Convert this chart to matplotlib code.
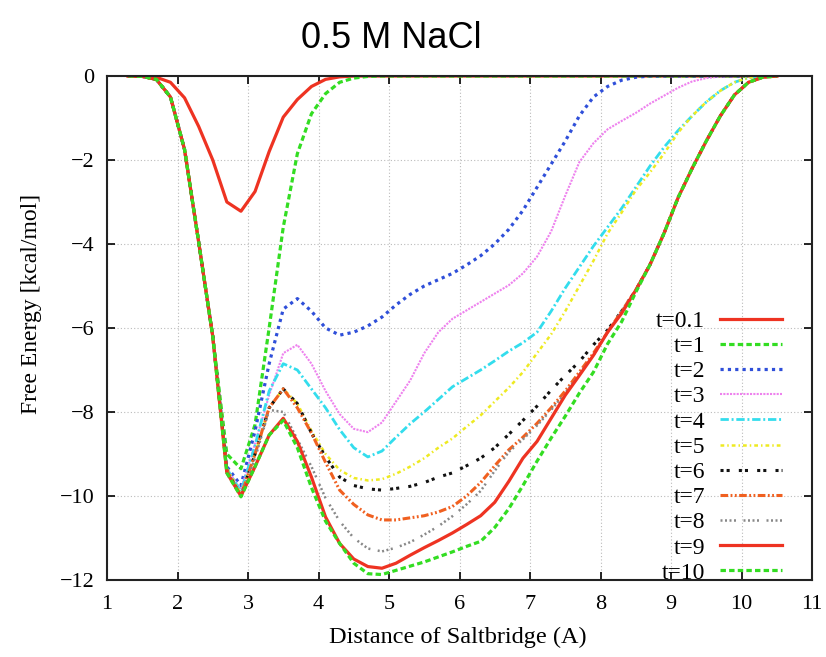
import numpy as np
import matplotlib
matplotlib.use("Agg")
import matplotlib.pyplot as plt

# distance grid (A)
distance = [1.3, 1.5, 1.7, 1.9, 2.1, 2.3, 2.5, 2.7, 2.9, 3.1, 3.3, 3.5, 3.7, 3.9,
            4.1, 4.3, 4.5, 4.7, 4.9, 5.1, 5.3, 5.5, 5.7, 5.9, 6.1, 6.3, 6.5, 6.7,
            6.9, 7.1, 7.3, 7.5, 7.7, 7.9, 8.1, 8.3, 8.5, 8.7, 8.9, 9.1, 9.3, 9.5,
            9.7, 9.9, 10.1, 10.3, 10.5]

# free energy (kcal/mol) per time
t01 = [0, 0, -0.03, -0.15, -0.52, -1.2, -2.0, -3.0, -3.22, -2.75, -1.8, -0.98, -0.56, -0.25,
       -0.08, -0.02, 0, 0, 0, 0, 0, 0, 0, 0, 0, 0, 0, 0,
       0, 0, 0, 0, 0, 0, 0, 0, 0, 0, 0, 0, 0, 0,
       0, 0, 0, 0, 0]
t1 = [0, -0.01, -0.08, -0.5, -1.75, -3.95, -6.2, -9.0, -9.35, -8.3, -6.0, -3.6, -1.85, -0.9,
      -0.42, -0.15, -0.05, -0.01, 0, 0, 0, 0, 0, 0, 0, 0, 0, 0,
      0, 0, 0, 0, 0, 0, 0, 0, 0, 0, 0, 0, 0, 0,
      0, 0, 0, 0, 0]
t2 = [0, -0.01, -0.08, -0.5, -1.75, -3.95, -6.2, -9.3, -9.75, -8.45, -6.85, -5.55, -5.3, -5.6,
      -6.0, -6.17, -6.1, -5.95, -5.74, -5.45, -5.2, -5.0, -4.85, -4.7, -4.5, -4.28, -4.0, -3.65,
      -3.2, -2.65, -2.1, -1.55, -0.95, -0.5, -0.25, -0.1, -0.03, 0, 0, 0, 0, 0,
      0, 0, 0, 0, 0]
t3 = [0, -0.01, -0.08, -0.5, -1.75, -3.95, -6.2, -9.35, -9.85, -8.75, -7.6, -6.6, -6.4, -6.85,
      -7.5, -8.05, -8.4, -8.48, -8.25, -7.75, -7.25, -6.6, -6.1, -5.78, -5.58, -5.38, -5.18, -4.98,
      -4.7, -4.3, -3.7, -2.85, -2.05, -1.6, -1.27, -1.07, -0.88, -0.66, -0.47, -0.28, -0.13, -0.05,
      -0.01, 0, 0, 0, 0]
t4 = [0, -0.01, -0.08, -0.5, -1.75, -3.95, -6.2, -9.35, -9.9, -8.8, -7.5, -6.85, -7.0, -7.45,
      -7.9, -8.42, -8.85, -9.07, -8.93, -8.6, -8.28, -8.0, -7.7, -7.4, -7.2, -7.0, -6.78, -6.55,
      -6.35, -6.1, -5.6, -5.05, -4.55, -4.05, -3.6, -3.15, -2.65, -2.15, -1.7, -1.3, -0.95, -0.62,
      -0.35, -0.15, -0.04, 0, 0]
t5 = [0, -0.01, -0.08, -0.5, -1.75, -3.95, -6.2, -9.35, -9.95, -9.0, -7.9, -7.45, -7.8, -8.45,
      -9.0, -9.38, -9.57, -9.63, -9.6, -9.47, -9.3, -9.1, -8.85, -8.63, -8.35, -8.08, -7.75, -7.42,
      -7.05, -6.6, -6.15, -5.6, -5.0, -4.4, -3.75, -3.25, -2.72, -2.3, -1.85, -1.35, -0.95, -0.62,
      -0.35, -0.15, -0.04, 0, 0]
t6 = [0, -0.01, -0.08, -0.5, -1.75, -3.95, -6.2, -9.4, -10.0, -9.0, -7.9, -7.45, -7.8, -8.5,
      -9.07, -9.55, -9.75, -9.83, -9.86, -9.82, -9.77, -9.68, -9.55, -9.45, -9.28, -9.1, -8.85, -8.53,
      -8.2, -7.86, -7.48, -7.13, -6.8, -6.4, -6.05, -5.6, -5.1, -4.5, -3.75, -2.9, -2.2, -1.55,
      -0.95, -0.45, -0.15, -0.03, 0]
t7 = [0, -0.01, -0.08, -0.5, -1.75, -3.95, -6.2, -9.4, -10.0, -9.0, -7.9, -7.45, -7.9, -8.5,
      -9.2, -9.86, -10.2, -10.45, -10.57, -10.57, -10.52, -10.47, -10.38, -10.25, -10.0, -9.68, -9.28, -8.9,
      -8.6, -8.27, -7.9, -7.5, -7.05, -6.6, -6.1, -5.6, -5.1, -4.5, -3.75, -2.9, -2.2, -1.55,
      -0.95, -0.45, -0.15, -0.03, 0]
t8 = [0, -0.01, -0.08, -0.5, -1.75, -3.95, -6.2, -9.4, -10.0, -9.1, -7.95, -8.0, -8.65, -9.3,
      -10.05, -10.6, -11.0, -11.25, -11.32, -11.23, -11.1, -10.92, -10.72, -10.48, -10.2, -9.88, -9.4, -8.95,
      -8.65, -8.32, -7.95, -7.55, -7.1, -6.65, -6.1, -5.6, -5.1, -4.5, -3.75, -2.9, -2.2, -1.55,
      -0.95, -0.45, -0.15, -0.03, 0]
t9 = [0, -0.01, -0.08, -0.5, -1.75, -3.95, -6.2, -9.45, -10.0, -9.3, -8.55, -8.15, -8.7, -9.55,
      -10.5, -11.13, -11.5, -11.68, -11.72, -11.6, -11.41, -11.23, -11.06, -10.88, -10.68, -10.47, -10.15, -9.65,
      -9.1, -8.7, -8.15, -7.6, -7.13, -6.65, -6.1, -5.65, -5.1, -4.5, -3.75, -2.9, -2.2, -1.55,
      -0.95, -0.45, -0.15, -0.03, 0]
t10 = [0, -0.01, -0.08, -0.5, -1.75, -3.95, -6.2, -9.45, -10.02, -9.3, -8.55, -8.2, -8.85, -9.8,
       -10.6, -11.13, -11.6, -11.85, -11.87, -11.77, -11.67, -11.57, -11.45, -11.33, -11.2, -11.08, -10.75, -10.3,
       -9.75, -9.17, -8.62, -8.1, -7.55, -7.05, -6.38, -5.85, -5.15, -4.5, -3.75, -2.9, -2.2, -1.55,
       -0.95, -0.45, -0.15, -0.03, 0]

labels = ["t=0.1", "t=1", "t=2", "t=3", "t=4", "t=5", "t=6", "t=7", "t=8", "t=9", "t=10"]
series = [t01, t1, t2, t3, t4, t5, t6, t7, t8, t9, t10]

# gnuplot-ish line types
STYLES = [
    dict(color="#ee3322", lw=2.3, ls="-"),
    dict(color="#33dd22", lw=2.3, ls=(0, (1.7, 1.0))),
    dict(color="#2f4fd9", lw=2.3, ls=(0, (1, 1.3))),
    dict(color="#ee82ee", lw=1.5, ls=(0, (1, 0.6))),
    dict(color="#33dded", lw=2.0, ls=(0, (3, 1, 0.7, 1))),
    dict(color="#eeea22", lw=1.8, ls=(0, (1.5, 1.2, 0.6, 1.2))),
    dict(color="#111111", lw=2.2, ls=(0, (1, 1, 1, 3))),
    dict(color="#f06020", lw=2.2, ls=(0, (2.5, 0.8, 0.6, 0.8, 0.6, 0.8))),
    dict(color="#888888", lw=1.8, ls=(0, (0.8, 1, 0.8, 1, 0.8, 1, 0.8, 3))),
    dict(color="#ee3322", lw=2.3, ls="-"),
    dict(color="#33dd22", lw=2.3, ls=(0, (1.7, 1.0))),
]

SERIF = ["Liberation Serif", "DejaVu Serif"]

fig = plt.figure(figsize=(8.26, 6.57), dpi=100)
ax = fig.add_axes([107 / 826, 1 - 580 / 657, 705 / 826, 504 / 657])

for y, lab, st in zip(series, labels, STYLES):
    ax.plot(distance, y, label=lab, color=st["color"], linewidth=st["lw"],
            linestyle=st["ls"])

ax.set_xlim(1, 11)
ax.set_ylim(-12, 0)
ax.set_xticks(range(1, 12))
ax.set_yticks(range(-12, 1, 2))
ax.grid(True, color="#bbbbbb", linestyle=(0, (1, 2)), linewidth=0.8)
ax.set_axisbelow(True)
ax.tick_params(direction="in", length=6, width=1.2, top=True, right=True,
               labelsize=16, pad=9)
ax.tick_params(axis="x", pad=11)
for lbl in ax.get_xticklabels() + ax.get_yticklabels():
    lbl.set_family(SERIF)
for spine in ax.spines.values():
    spine.set_linewidth(1.5)
    spine.set_color("#222222")

ax.set_xlabel("Distance of Saltbridge (A)", fontsize=17.5, family=SERIF)
ax.xaxis.set_label_coords(0.497, -0.092)
ax.set_ylabel("Free Energy [kcal/mol]", fontsize=17, family=SERIF)
ax.yaxis.set_label_coords(-0.092, 0.547)

ax.legend(loc="upper right", bbox_to_anchor=(0.957, 0.535), frameon=False,
          markerfirst=False, handlelength=2.6, handletextpad=0.64,
          labelspacing=0.155, borderpad=0, borderaxespad=0,
          prop={"family": SERIF, "size": 17})

fig.text(391 / 826, 1 - 38 / 657, "0.5 M NaCl", ha="center", va="center",
         fontsize=26, family=["Liberation Sans", "DejaVu Sans"])

fig.savefig("out.png", dpi=100)
